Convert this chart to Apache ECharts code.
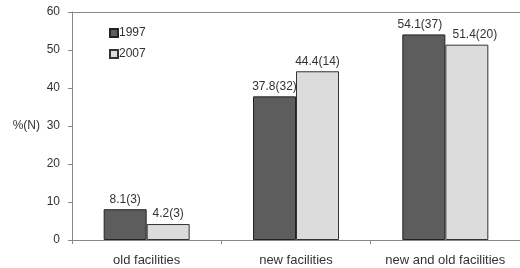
<!DOCTYPE html>
<html>
<head>
<meta charset="utf-8">
<script src="https://cdn.jsdelivr.net/npm/echarts@6/dist/echarts.min.js"></script>
<style>
  html, body { margin: 0; padding: 0; background: #fff; }
  #chart { width: 520px; height: 268px; }
</style>
</head>
<body>
<div id="chart"></div>
<script>
var categories = ['old facilities', 'new facilities', 'new and old facilities'];
var years = ['1997', '2007'];
var pct1997 = [8.1, 37.8, 54.1];
var n1997 = [3, 32, 37];
var pct2007 = [4.2, 44.4, 51.4];
var n2007 = [3, 14, 20];
var yTicks = [0, 10, 20, 30, 40, 50, 60];

var chart = echarts.init(document.getElementById('chart'));

// labels of the last group are nudged apart, as in the original
function barData(values, shift) {
    return values.map(function (v, i) {
        var item = { value: v };
        if (i === values.length - 1) item.label = { offset: [shift, 0] };
        return item;
    });
}

function barLabel(counts) {
    return {
        show: true,
        position: 'top',
        distance: 4,
        color: '#333',
        fontSize: 12,
        formatter: function (p) {
            return p.value + '(' + counts[p.dataIndex] + ')';
        }
    };
}

chart.setOption({
    animation: false,
    textStyle: { fontFamily: 'Liberation Sans, Arial, sans-serif' },
    legend: {
        orient: 'vertical',
        left: 104,
        top: 22,
        itemWidth: 8,
        itemHeight: 8,
        itemGap: 9,
        icon: 'rect',
        textStyle: { color: '#333', fontSize: 12, padding: [0, 0, 0, -4] },
        data: years
    },
    grid: { left: 72, top: 12, width: 455, height: 228 },
    xAxis: [{
        type: 'category',
        data: categories,
        axisLine: { lineStyle: { color: '#888' } },
        axisTick: { show: true, length: 4, lineStyle: { color: '#888' } },
        axisLabel: { color: '#333', fontSize: 13, margin: 14, interval: 0 }
    }, {
        type: 'category',
        position: 'top',
        data: categories,
        axisLine: { show: true, lineStyle: { color: '#888' } },
        axisTick: { show: false },
        axisLabel: { show: false }
    }],
    yAxis: {
        type: 'value',
        name: '%(N)',
        nameLocation: 'middle',
        nameRotate: 0,
        nameGap: 32,
        nameTextStyle: { color: '#333', fontSize: 12 },
        min: yTicks[0],
        max: yTicks[yTicks.length - 1],
        interval: 10,
        axisLine: { show: true, lineStyle: { color: '#888' } },
        axisTick: { show: true, length: 4, lineStyle: { color: '#888' } },
        axisLabel: { color: '#333', fontSize: 12, margin: 12 },
        splitLine: { show: false }
    },
    series: [{
        name: years[0],
        type: 'bar',
        data: barData(pct1997, -4),
        barWidth: 43,
        barGap: '0%',
        itemStyle: { color: '#5d5d5d', borderColor: '#222', borderWidth: 1 },
        label: barLabel(n1997)
    }, {
        name: years[1],
        type: 'bar',
        data: barData(pct2007, 8),
        barWidth: 43,
        barGap: '0%',
        itemStyle: { color: '#dcdcdc', borderColor: '#333', borderWidth: 1 },
        label: barLabel(n2007)
    }]
});
</script>
</body>
</html>
